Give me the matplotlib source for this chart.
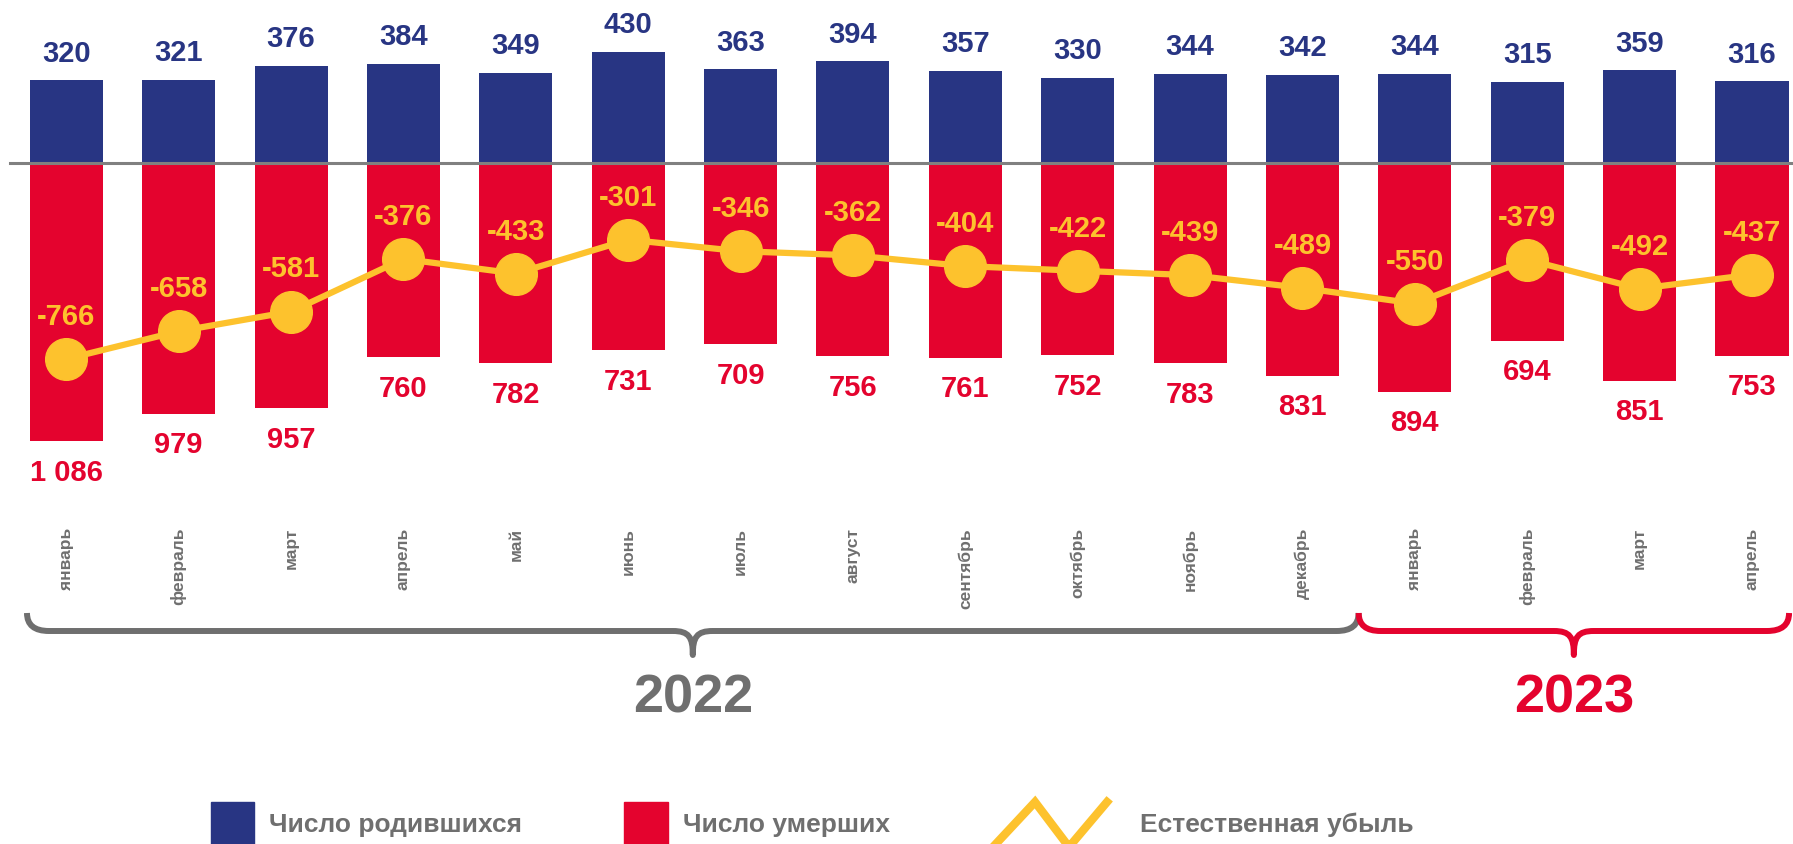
import matplotlib
matplotlib.use("Agg")
from matplotlib import pyplot as plt
from matplotlib.path import Path
from matplotlib.patches import PathPatch, Rectangle

# data
months = ["январь", "февраль", "март", "апрель", "май", "июнь", "июль", "август",
          "сентябрь", "октябрь", "ноябрь", "декабрь",
          "январь", "февраль", "март", "апрель"]
births = [320, 321, 376, 384, 349, 430, 363, 394, 357, 330, 344, 342, 344, 315, 359, 316]
deaths = [1086, 979, 957, 760, 782, 731, 709, 756, 761, 752, 783, 831, 894, 694, 851, 753]
natural = [-766, -658, -581, -376, -433, -301, -346, -362, -404, -422, -439, -489, -550, -379, -492, -437]
years = ["2022", "2023"]
year_spans = [(-0.35, 11.5), (11.5, 15.33)]

NAVY = "#283583"
RED = "#E4032E"
YELLOW = "#FDC22D"
GREY = "#6F6F6F"
FONT = ["Liberation Sans", "DejaVu Sans"]

plt.rcParams['font.family'] = FONT

W, H = 1793, 845
fig = plt.figure(figsize=(W / 100, H / 100), dpi=100)
ax = fig.add_axes([0, 0, 1, 1])
ax.axis('off')

# pixel <-> data helpers (axes covers whole figure)
x0, x1 = -0.59, 15.365
base_px, ppu = 163.5, 0.2565
y_top = base_px / ppu
y_bot = -(H - base_px) / ppu
ax.set_xlim(x0, x1)
ax.set_ylim(y_bot, y_top)


def py(pix):
    return (base_px - pix) / ppu


def dx(pix):
    return pix * (x1 - x0) / W


def dy(pix):
    return pix / ppu


xs = list(range(len(months)))
neg_deaths = [-d for d in deaths]
ax.bar(xs, births, width=0.65, color=NAVY, zorder=2)
ax.bar(xs, neg_deaths, width=0.65, color=RED, zorder=2)
ax.plot([-0.5, x1], [0, 0], color="#808080", lw=2.2, zorder=3)
ax.plot(xs, natural, color=YELLOW, lw=4.5, marker='o', markersize=30, zorder=4)

for x, b, d, n in zip(xs, births, deaths, natural):
    ax.annotate(str(b), (x, b), xytext=(0, 20), textcoords='offset points',
                ha='center', va='center', fontsize=21, fontweight='bold', color=NAVY)
    ax.annotate(f"{d:,}".replace(",", " "), (x, -d), xytext=(0, -22), textcoords='offset points',
                ha='center', va='center', fontsize=21, fontweight='bold', color=RED)
    ax.annotate(str(n), (x, n), xytext=(0, 31), textcoords='offset points',
                ha='center', va='center', fontsize=21, fontweight='bold', color=YELLOW, zorder=5)
    ax.text(x, py(528), months[x], rotation=90, ha='center', va='top',
            fontsize=12.5, fontweight='bold', color=GREY)


def brace(xa, xb, color):
    yt, yh, ytip = py(614), py(632), py(656)
    xm = (xa + xb) / 2
    r = dx(22)
    rt = dx(20)
    verts = [(xa, yt), (xa, yh), (xa + r, yh),
             (xm - rt, yh),
             (xm - dx(4), yh), (xm, yh - dy(6)), (xm, ytip),
             (xm, yh - dy(6)), (xm + dx(4), yh), (xm + rt, yh),
             (xb - r, yh),
             (xb, yh), (xb, yt)]
    codes = [Path.MOVETO, Path.CURVE3, Path.CURVE3,
             Path.LINETO,
             Path.CURVE4, Path.CURVE4, Path.CURVE4,
             Path.CURVE4, Path.CURVE4, Path.CURVE4,
             Path.LINETO,
             Path.CURVE3, Path.CURVE3]
    ax.add_patch(PathPatch(Path(verts, codes), fill=False, edgecolor=color,
                           lw=4.3, capstyle='butt', joinstyle='round'))


for (xa, xb), label, c in zip(year_spans, years, [GREY, RED]):
    brace(xa, xb, c)
    ax.text((xa + xb) / 2, py(699), label, ha='center', va='center',
            fontsize=39, fontweight='bold', color=c)

# legend in pixel coordinates
lg = fig.add_axes([0, 0, 1, 1])
lg.set_xlim(0, W)
lg.set_ylim(H, 0)
lg.axis('off')
lg.add_patch(Rectangle((211, 803), 43, 60, color=NAVY, clip_on=False))
lg.add_patch(Rectangle((624, 803), 44, 60, color=RED, clip_on=False))
lg.plot([993, 1035, 1069, 1107], [848, 803, 848, 803], color=YELLOW, lw=6,
        solid_joinstyle='miter', clip_on=False)
lg.text(269, 825, "Число родившихся", ha='left', va='center', fontsize=19,
        fontweight='bold', color=GREY)
lg.text(683, 825, "Число умерших", ha='left', va='center', fontsize=19,
        fontweight='bold', color=GREY)
lg.text(1140, 825, "Естественная убыль", ha='left', va='center', fontsize=19,
        fontweight='bold', color=GREY)

fig.savefig("out.png", dpi=100)
